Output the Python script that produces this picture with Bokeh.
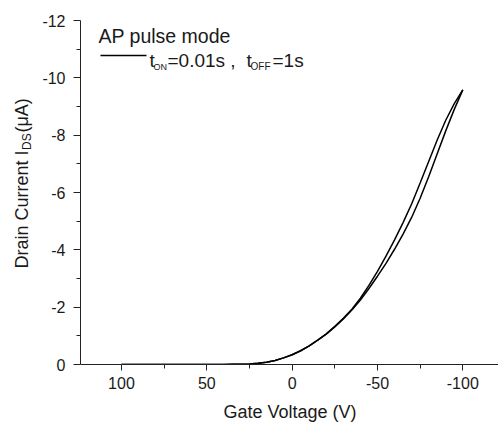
import math
from bokeh.plotting import figure
from bokeh.layouts import row
from bokeh.models import Range1d, FixedTicker, Label
from bokeh.embed import file_html
from bokeh.resources import INLINE

# ---- data ----
gate_voltage = [100, 95, 90, 85, 80, 75, 70, 65, 60, 55, 50, 45, 40, 35, 30, 25, 20, 15, 10, 5, 0,
                -5, -10, -15, -20, -25, -30, -35, -40, -45, -50, -55, -60, -65, -70, -75, -80,
                -85, -90, -95, -100]
current_branch_a = [0, 0, 0, 0, 0, 0, 0, 0, 0, 0, 0, 0, 0, -0.005, -0.01, -0.02, -0.04, -0.08, -0.14,
                    -0.23, -0.34, -0.48, -0.65, -0.85, -1.07, -1.33, -1.61, -1.93, -2.31, -2.76,
                    -3.25, -3.78, -4.35, -4.95, -5.60, -6.33, -7.08, -7.83, -8.52, -9.10, -9.58]
current_branch_b = [0, 0, 0, 0, 0, 0, 0, 0, 0, 0, 0, 0, 0, -0.005, -0.01, -0.02, -0.04, -0.08, -0.14,
                    -0.23, -0.34, -0.48, -0.65, -0.85, -1.06, -1.31, -1.59, -1.90, -2.25, -2.65,
                    -3.08, -3.53, -4.02, -4.55, -5.13, -5.80, -6.55, -7.35, -8.15, -8.90, -9.58]

x_ticks = [100, 50, 0, -50, -100]
x_tick_labels = ["100", "50", "0", "-50", "-100"]
x_minor = [75, 25, -25, -75]
y_ticks = [0, -2, -4, -6, -8, -10, -12]
y_tick_labels = ["0", "-2", "-4", "-6", "-8", "-10", "-12"]
y_minor = [-1, -3, -5, -7, -9, -11]

X0, X1 = 124, -121.5
Y0, Y1 = 0, -12
FW, FH = 419, 344
LEFT, TOP, BOTTOM = 79, 20, 60
CANVAS_H = TOP + FH + BOTTOM
SIDE_W = 39  # narrow strip that carries the vertical axis title

FONT = "Liberation Sans"
TXT = "#1a1a1a"

# ---- strip with the y-axis title (page-pixel coordinates) ----
side = figure(frame_width=SIDE_W, frame_height=CANVAS_H,
              x_range=Range1d(0, SIDE_W), y_range=Range1d(CANVAS_H, 0),
              output_backend="svg", toolbar_location=None,
              x_axis_location=None, y_axis_location=None,
              min_border_left=0, min_border_right=0, min_border_top=0, min_border_bottom=0)
side.outline_line_color = None
side.grid.visible = False
side.background_fill_color = "white"
side.border_fill_color = "white"

def vlab(text, px, py, size):
    side.add_layout(Label(x=px, y=py, text=text, angle=math.pi / 2,
                          text_font=FONT, text_font_size=size, text_color=TXT,
                          text_align="left", text_baseline="alphabetic"))

vlab("Drain Current I", 21, 248, "18px")
vlab("DS", 26.5, 129.5, "12px")
vlab("(\u03bcA)", 21, 112, "18px")

# ---- main plot ----
p = figure(frame_width=FW, frame_height=FH,
           x_range=Range1d(X0, X1), y_range=Range1d(Y0, Y1),
           output_backend="svg", toolbar_location=None,
           min_border_left=LEFT - SIDE_W, min_border_right=0,
           min_border_top=TOP, min_border_bottom=BOTTOM)
p.outline_line_color = None
p.grid.visible = False
p.background_fill_color = "white"
p.border_fill_color = "white"

# helpers: page px -> data coordinates (for legend decorations inside the frame)
def dx(px):
    return X0 + (px - LEFT) * (X1 - X0) / FW

def dy(py):
    return Y1 + (py - TOP) * (Y0 - Y1) / FH

p.line(gate_voltage, current_branch_a, line_color="black", line_width=1.5)
p.line(gate_voltage, current_branch_b, line_color="black", line_width=1.5)

for ax in (p.xaxis[0], p.yaxis[0]):
    ax.axis_line_color = "#222222"
    ax.major_tick_line_color = "#222222"
    ax.minor_tick_line_color = "#222222"
    ax.major_tick_in = 0
    ax.minor_tick_in = 0
    ax.minor_tick_out = 4
    ax.major_label_text_font = FONT
    ax.major_label_text_font_size = "16px"
    ax.major_label_text_color = TXT

p.xaxis.major_tick_out = 6
p.yaxis.major_tick_out = 7
p.xaxis.ticker = FixedTicker(ticks=x_ticks, minor_ticks=x_minor)
p.xaxis.major_label_overrides = dict(zip(x_ticks, x_tick_labels))
p.yaxis.ticker = FixedTicker(ticks=y_ticks, minor_ticks=y_minor)
p.yaxis.major_label_overrides = dict(zip(y_ticks, y_tick_labels))
p.xaxis.major_label_standoff = 6
p.yaxis.major_label_standoff = 8

p.xaxis.axis_label = "Gate Voltage (V)"
p.xaxis.axis_label_text_font = FONT
p.xaxis.axis_label_text_font_size = "18px"
p.xaxis.axis_label_text_font_style = "normal"
p.xaxis.axis_label_text_color = TXT
p.xaxis.axis_label_standoff = 10

def lab(text, px, py, size):
    p.add_layout(Label(x=dx(px), y=dy(py), text=text,
                       text_font=FONT, text_font_size=size, text_color=TXT,
                       text_align="left", text_baseline="alphabetic"))

# legend
lab("AP pulse mode", 97, 35, "19.5px")
p.line([dx(99), dx(145)], [dy(55), dy(55)], line_color="black", line_width=1.5)
lab("t", 148, 60, "19px")
lab("ON", 152, 66, "9px")
lab("=0.01s , ", 166, 60, "19px")
lab("t", 245, 60, "19px")
lab("OFF", 249, 66, "10px")
lab("=1s", 271, 60, "19px")

layout = row(side, p, spacing=0)
open("out.html", "w").write(file_html(layout, INLINE))
